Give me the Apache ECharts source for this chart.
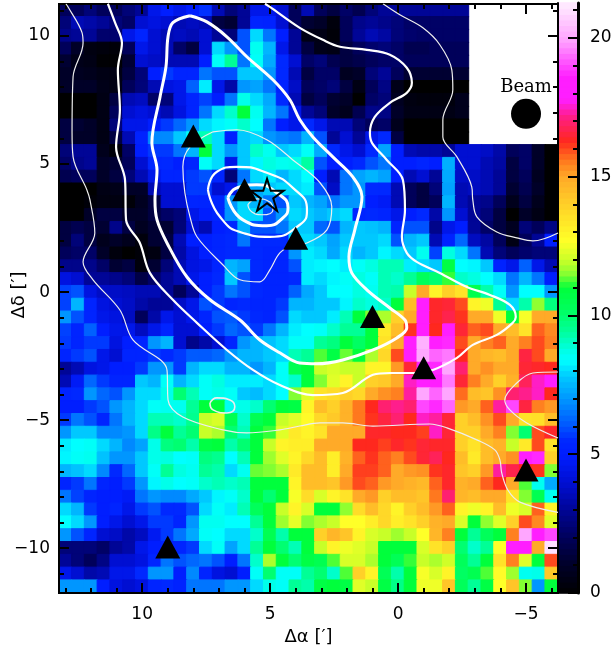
<!DOCTYPE html>
<html><head><meta charset="utf-8">
<style>html,body{margin:0;padding:0;background:#fff}#c{width:615px;height:648px}</style>
<script src="https://cdn.jsdelivr.net/npm/echarts@6/dist/echarts.min.js"></script>
</head><body><div id="c"></div>
<script>
// column centres (RA offset, arcmin) and row centres (Dec offset, arcmin)
const raCats = [13,12.5,12,11.5,11,10.5,10,9.5,9,8.5,8,7.5,7,6.5,6,5.5,5,4.5,4,3.5,3,2.5,2,1.5,1,0.5,0,-0.5,-1,-1.5,-2,-2.5,-3,-3.5,-4,-4.5,-5,-5.5,-6];
const decCats = [11,10.5,10,9.5,9,8.5,8,7.5,7,6.5,6,5.5,5,4.5,4,3.5,3,2.5,2,1.5,1,0.5,0,-0.5,-1,-1.5,-2,-2.5,-3,-3.5,-4,-4.5,-5,-5.5,-6,-6.5,-7,-7.5,-8,-8.5,-9,-9.5,-10,-10.5,-11,-11.5];

// map values, one row per declination, top to bottom (top rows stop where the beam box begins)
const rows = [
[2,2,2.5,2,2,2.5,3,4.5,5,4.5, 5,5.6,3.5,2.5,3,4.5,4.5,4,2,3.5, 2,1.5,2.2,1.8,2.5,3,3,3,3,3, 3,3],
[2.5,3.5,3.3,3,2.5,2.2,4,4.3,4,3.5, 3.7,3.5,1.5,1.2,3,5.3,5.2,4,2,1.2, 1,.3,2,2.8,3,2.8,2.5,2.2,2.2,2.2, 2.2,2.2],
[2.8,3,3,2.3,2.3,4.5,5.3,4,3.5,3.7, 3.5,4,3,2.5,6,8,6.5,5,3,.5, .5,.2,2,3,3.5,3.2,2.5,2.3,2.2,2.2, 2.2,2.2],
[2,1,.4,.3,.2,2,4.5,4,3.5,2.2, 1.5,4,8,7,6,8.6,7.5,4.5,3,1.5, .6,.5,1.5,2,2.3,2.5,2.2,1.8,1.8,2, 2,2],
[1.2,.6,.5,.1,.1,1.2,4,3.8,3.5,3.5, 3.5,5,8.5,9.5,6.5,8.5,7.3,5.5,4,2.2, 2.5,1.8,1.5,1.7,2,2.2,2.2,2,2,2, 2,2],
[1,.8,.7,.5,.5,1.5,2.5,5,5.7,5.3, 5.3,6.5,6,6,7.8,7.8,7,5.5,3.5,1.5, 2.2,2.2,.8,1,2.5,3,2,1.2,1.2,1.2, 1.2,1.2],
[1,1,1,.6,.5,2,2.5,3.5,4.3,4.5, 6.2,8.2,4.5,3.3,7,7.2,6.5,5.2,3.8,2, 2.2,2.5,1.5,.5,2,2.7,.6,0,0,0, 0,0],
[0,0,0,.5,1.5,3.5,3.7,2.2,2.5,4.5, 5.3,5.8,5,6.5,8.7,8,7.3,5.5,3.5,1.5, 2,1.2,1,0,2.2,2.5,.8,.4,.3,.3, .3,.7],
[0,0,0,.5,2,4,4.3,4,3.5,4.3, 5.3,6.5,8,9,11,8.6,7.5,6.5,4.5,3, 2.5,1,.7,1.8,2.8,2.7,1,.5,.5,.5, .5,.7],
[1.5,1.2,1,.5,2.5,4.5,4.5,5,5.7,6.3, 7,8,8.3,8.5,9,8.4,6.5,5,4.5,5.5, 4.5,3.5,3.5,2.5,2,2.2,.7,0,0,0, 0,0],
[1.5,1,1,.5,1.5,3.5,5.2,6.8,6.8,7.8, 8.5,9.2,8,5,7.8,8,7,6.7,6.5,7.5, 6,3,4,3,4.5,5.5,1.5,0,0,0, 0,0],
[2.5,3,3,.7,.2,2.2,5,5.7,5.7,6.5, 7.5,11,8,7,7.8,9,8.6,7.8,8,8.5, 7.3,5.5,4.5,4,5.5,7.2,5,3.5,3.3,3.3, 3,4,4,3.8,3.3,2,2.2,1,0],
[2.2,2.8,3,1,1.2,2,4,5.4,5.5,5, 5.3,8.5,8,4.5,7.8,8.3,8.8,8.6,8.7,9.4, 6,5,5,5.5,6,6.5,5,5,5.3,5, 7.4,4,4,3.5,3.2,1.5,2.2,1,0],
[1.8,2,2,1,1.5,2.5,3.5,4.5,5.3,5.3, 5.7,6,5.3,2.5,6.5,8,8.2,7.5,8,8.4, 5,3.5,6.5,7.2,7.5,7.2,5,3.5,4,3, 7.3,3.8,3.8,3.5,3,1.5,2,.8,0],
[0,0,0,.5,.6,1,1,3.5,4,4, 5.7,5.7,4,4.5,7,7.3,7.8,8,8,8.2, 6,3.8,6.5,7,5.5,5.5,3.5,2,1.5,2.5, 7.2,3.5,3.7,3.5,3,1.2,1.8,1,0],
[0,0,.2,.4,.4,.2,.8,1.5,4,4, 5.3,5.3,5.3,7,8,7.5,6.5,6,7.8,7.5, 7.2,6.5,7,7,5,4.8,3.5,2,1.5,2, 7.5,3.5,3,2.8,2,.7,1.5,.7,0],
[0,0,1,1.5,1.5,1,1,1.5,2.2,2.5, 4.5,5,5.3,7,8,8,6,7,8,7.8, 7.5,7.8,8,5.3,5.5,5.3,4.5,5,5.5,3.3, 7,4,3,2.5,1.5,0,1,.5,0],
[1.5,1.8,1.5,1.2,2.8,1.5,.8,1.2,1.2,2.5, 4,3.5,5,5.3,7.5,6,6,6.5,7.8,7.8, 6.3,6,7.5,7.8,7.7,7.5,5.3,6,6,2.8, 4.5,5,3,2.2,1.5,.8,2.5,2,2.7],
[1.5,2.5,1.5,.7,1,.7,.3,1.2,1.5,3.5, 5,5,5.3,5.5,6.5,5.5,5.5,5.5,8,8, 7.8,7.2,7.8,7.8,7.8,8,6,7.5,7.8,3.5, 5.2,6.3,3.7,3.2,2,.5,2,3,5],
[2,2.2,2.2,1,.3,0,.2,.4,1.5,3.3, 4.3,5,5.3,5.5,5.5,5.5,5.3,5.3,7,8.2, 8,7.3,8,7.5,7.8,8.3,8,7.8,8.6,5.8, 8.8,8,6.5,3.5,2.5,2,2.3,2.5,2.5],
[2.8,2.8,2.8,2.2,1.2,1.5,.3,1.2,2.5,3.5, 4.3,4.5,5.3,7.5,7.2,5.5,5.3,5.3,6,8.2, 8.3,8.4,8.2,8.5,8.8,9.2,9.2,8.2,8,7.8, 10.8,8.4,8.3,7.8,5.2,4.5,6.2,4.5,3.5],
[4.3,4,3,3,2.8,2.5,1.6,2.2,3,3.5, 4.5,5,5.5,7.8,6,5.5,5.3,5.3,5.5,8.2, 8,8.3,8.5,8.8,8.5,9.2,9,9.5,10.3,10, 11.2,9,8.8,8.4,8,6.5,7.5,6.5,5],
[5.8,6,4.3,3.8,3.8,3.7,3.5,3.5,3,2, 3,5,5.7,6.5,6,5.5,5.3,5.3,6.2,7.3, 7.8,8.4,8.4,8.8,8.6,9.2,9.3,12,15,13, 14,13.5,10.6,9.3,8.5,7,8.4,8.4,7],
[5.8,7.5,5.3,4.3,4,3.8,3.3,3,3,3.8, 4.5,6,5.7,5.3,5.5,5.3,5.3,5.7,7.5,7.5, 7.8,7.8,8.3,9,8.8,9,11,14.5,18.5,16.4, 16.5,16,13,12.5,9.5,8,9.3,11.6,9.8],
[7,6,5.3,4.5,4.3,3.7,2,3.3,4.5,4, 4.5,5.3,6,6.1,5.7,5.5,5.3,6,8,7.8, 7.8,8.2,9.2,11,11.5,11.8,14,15,18,16.4, 16.7,16.2,15,15,12.5,11,12.6,15,15],
[5.8,5.3,6.2,5,4.5,4.5,3.7,4.5,5.3,4, 4,5,5.7,6.3,6,5.7,6.5,7.5,8.2,8.4, 8.5,9,9.5,9.5,11,13.3,14.5,16.2,18.5,16.3, 18.3,16.5,15.8,16,15,14.5,13.5,15.8,15.4],
[5.7,5.3,5.7,5.7,4.3,5,5.3,7,7.5,4, 2.8,3.3,4,5.3,7,7.5,7.7,8,8.5,8.5, 9.5,9.8,11,10.2,11,13.5,15,18,20.2,18.5, 18.7,16,15,15.5,15.8,15,15.5,16,15.5],
[5.3,5.7,6,4.5,4,5.3,5.3,5.7,5.5,5.7, 6.1,6.1,6.3,7,7.5,7.5,7.8,8,9.2,9.5, 11.3,10.8,11.4,11,11.8,13.8,16,18.3,20,19.3, 19.5,16.3,15,14.7,14.5,15,16.6,16,15],
[3,3.5,4.3,4.5,5,5,5.7,7,7,5.7, 7.5,8,8,7.5,7.5,7,7.5,8.5,10.5,11, 12,12.2,12,12,13,13,15.2,16.5,18,18.7, 20,17,15,15.3,15,15,16.5,16.4,16.3],
[3.5,4.8,6.3,5.7,5.3,5.3,7.8,7.5,8.5,7.5, 8,8.5,8.8,8.2,8.2,8.2,8,8.5,9,11, 11.5,12.3,13,12,14,14.2,15,17.5,18.5,18, 19.5,16.5,15.5,15,14,14.8,16.8,17.5,18.3],
[5.3,5.5,7,6.3,6,7,8,8,8.7,10, 9.2,8.5,8.7,8.5,7.8,7.6,8,8.4,11.5,12.3, 13.5,13.7,14,13.8,15,15.3,15.5,17.3,20,19.3, 20,15.7,14.5,14.3,15.3,17,17.2,17.5,16.3],
[5,5,5.7,6,7,7.5,8,8.5,8.6,8.6, 9.5,11,11,8.6,8.7,9,10,11,10.8,13, 14.5,14,14.8,15.6,16.3,17,17.2,17,19,18.7, 19.3,15.2,15,15.8,17.3,19,16.6,15.5,15.2],
[5.7,6.5,6,5.3,6.5,7.5,8,9.2,9.2,9, 9.6,12,12.2,10.5,9,10.5,11,12,12.3,12.8, 13.8,14.2,14.8,15.6,16.2,16.6,17,16.3,17.5,17.3, 16.5,14,14.5,15.3,16,15,13.5,13.6,14.5],
[7,7.8,7.8,6.8,6.8,7,8,9.7,11,9.5, 10,12,11.8,10,9.2,11,11.2,12.3,13.3,13, 13.5,15,15,15,16.4,16.4,16.3,16.3,16.1,17.5, 16.5,14,14,15,15.5,11.5,10,16,16.4],
[8.2,8.4,8.5,8,7.5,6.8,7.2,8.7,9.8,10, 9.3,10.8,11,9.3,10,11,12,13,13.2,13.2, 15,15,15,16.3,16.3,16.1,16.4,16.2,16.5,16.4, 16.4,14,13.5,14.5,14.8,12,13.3,16,13.5],
[8.3,8.5,8.6,7.7,7,7,7.8,8.7,8.8,8.4, 8.5,9.8,9.6,8.4,9.2,11,11.7,12.3,13,13.8, 14.5,13.2,14.8,15.8,16.2,15.8,15.5,16,16.5,16.8, 16.3,14.5,13.3,14.5,15,15.3,18.5,18.7,14],
[7.5,7.7,8,6.8,5.5,6.3,7.8,8.5,9.5,8.8, 8.6,9.5,9.3,8,8.6,11.4,11.5,11.8,13.3,14.5, 14.5,13.2,15,16.1,16.1,15.8,15,15.2,15.3,16.2, 16.4,14.3,14,15.2,17.3,16.7,16.3,16.2,11.5],
[5.3,5.7,6.5,5.3,5,5.7,7,8.3,8.7,8.4, 8.5,9,9.2,9,9.2,11,11,11,13,14.5, 14.5,14.3,15.2,16,15.8,15.2,15,14.8,14.6,15.8, 16.4,14.8,15,15.8,16.3,15,11.3,8.6,7.3],
[6.5,5.8,5.3,5,5,4.8,6.5,7,6.8,6.8, 7.3,7.8,8.3,8.5,9,11,10,11,12.6,13.7, 12.2,13,13.5,15,15.2,14,14.5,14.5,14.3,15.6, 17,14.7,14.5,15,15,13.5,11.5,10.5,8.6],
[8,7.5,5.7,5,5.3,4.5,5.7,6,5.5,5.5, 6,8,8.5,8.2,9.2,10.3,11,12,13,12.2, 11,11,11.6,13.7,14.5,13.8,13,14,14.5,15.2, 15.8,13,12.5,13,14.5,12.5,12.2,15.8,13],
[8.4,8,7,5,4.5,4,4.5,5.7,5.7,5.3, 7,8.6,8.6,8.4,8.4,9.5,11,11.7,12.4,11.5, 11.8,12,12.7,12.7,13.2,13.8,13.2,13.5,14,14.8, 15,12.2,11,11.6,12.3,14,16,15.4,12.3],
[7,6,5.3,4,3.8,3.3,3.7,4.7,5.7,6.5, 7.3,8.5,8.4,8,8,9,10.5,9.3,11,11, 14,14.7,14.3,13,12.2,12,11.7,12,12.7,14.7, 15.5,11,9.5,10.3,11,15.5,20,18,19],
[2.5,2.5,2.5,2.2,3,3.3,4.5,5,5.3,5.3, 5.7,8,8.5,7.2,8,9.5,11,10,9.2,11, 12,13,12.5,12.3,12,11,11,11,12.2,13.5, 14,10,9,9.5,12.7,18.5,18,15,21],
[3,2.5,2,2.7,4,4,4.3,5.3,6.5,6, 6.3,6.5,6,5,6.5,9,11.8,11,10,10.8, 10.5,11.3,12.2,12.2,11.8,11,10.4,11.2,12,11.8, 12.1,10.3,9.5,11,13.5,15.5,12.3,11,16],
[4.5,4,3.3,3.5,4.5,4.5,5.5,7,7,5, 6.8,5.3,4.3,4,5,8.5,10,8.5,8.5,9.5, 10,9,11.3,14,13,10.4,9.3,11,12.6,12.2, 13,10.2,10.5,11.3,12.8,11.7,8.6,8.7,14.2],
[7,7,7,5,4.3,4,4.3,5.3,5.5,5.2, 6.5,6.5,6.5,7,7,8,8.7,8.5,9.5,9.3, 10.8,11,10.8,12.3,12,10.8,9.7,11,12.5,12.5, 14.3,10.3,9.5,10.8,12.7,14.3,11.5,7,11]
];

// colour-bar stops: [value, r, g, b]
const colorStops = [[0,0,0,0],[1,0,0,40],[2,0,0,90],[3,0,5,150],[4,0,15,210],[5,0,30,255],[5.5,0,40,255],[6.1,0,90,255],[7,0,150,255],[7.8,0,200,255],[8.4,0,255,255],[8.75,0,255,230],[9.5,0,255,150],[10.3,0,255,90],[11,0,255,60],[11.5,130,255,50],[12,200,255,40],[12.7,255,255,40],[13.7,255,220,40],[15,255,170,40],[15.6,255,120,30],[16.3,255,40,30],[17.15,255,30,130],[17.8,255,30,255],[18.6,255,30,255],[19.9,255,160,255],[21.3,255,240,255]];
const cbarMax = 21.26;
const cbarBandCount = 106;

// axis tick positions and labels (arcmin)
const raMajor = [10,5,0,-5];
const raMinor = [13,12,11,9,8,7,6,4,3,2,1,-1,-2,-3,-4,-6];
const decMajor = [10,5,0,-5,-10];
const decMinor = [11,9,8,7,6,4,3,2,1,-1,-2,-3,-4,-6,-7,-8,-9,-11];
const cbarMajor = [0,5,10,15,20];
const cbarMinor = [1,2,3,4,6,7,8,9,11,12,13,14,16,17,18,19,21];

// contours, [RA offset, Dec offset] in arcmin
const contourA = [[12.98,11.26],[12.9,11.14],[12.35,10.13],[12.31,9.73],[12.7,8.41],[12.74,6.22],[12.7,5.28],[12.16,3.99],[12.04,3.6],[11.85,2.31],[12.31,1.18],[11.92,.48],[10.87,-.7],[10.36,-1.87],[9.03,-3.04],[8.99,-4.21],[8.41,-4.88],[6.84,-5.38],[5.91,-5.5],[4.62,-5.38],[3.84,-5.23],[3.05,-5.11],[2.16,-5.11],[.98,-5.23],[-1.24,-5.15],[-1.91,-5.3],[-3.08,-5.77],[-3.78,-6.16],[-3.98,-6.55],[-4.05,-7.06],[-4.29,-7.73],[-4.76,-8.2],[-6.25,-8.6]];
const contourB = [[11.34,11.26],[11.06,10.52],[10.79,9.73],[10.95,8.68],[10.87,7.12],[11.02,5.67],[10.67,4.38],[10.63,2.82],[10.09,1.92],[9.7,.75],[8.8,-.3],[7.86,-1.2],[6.69,-2.26],[5.67,-3.04],[4.62,-3.63],[3.33,-4.02],[2.16,-3.94],[.98,-3.23],[.32,-3.16],[-.58,-3.16],[-1.36,-3.04],[-2.3,-2.57],[-2.92,-2.06],[-3.86,-1.67],[-4.48,-1.2],[-4.6,-.97],[-4.37,-.5],[-3.59,-.11],[-2.69,.2],[-1.63,.75],[-.73,1.18],[-.34,1.53],[-.15,2.16],[-.27,3.21],[-.19,4.38],[.44,5.16],[1.02,5.83],[1.1,6.22],[.91,6.84],[.32,7.39],[-.34,7.78],[-.54,8.17],[-.34,8.76],[.32,9.27],[1.22,9.46],[2.27,9.58],[2.94,9.85],[3.84,10.32],[5.01,11.14],[5.2,11.26]];
const contourC = [[8.13,10.79],[7.47,10.55],[6.69,9.97],[5.91,9.19],[4.89,8.29],[4.23,7.51],[3.84,6.73],[3.33,6.06],[2.55,5.28],[1.77,4.5],[1.41,3.72],[1.69,2.43],[1.92,1.38],[1.81,.75],[1.22,.09],[.32,-.62],[-.27,-1.09],[-.34,-1.4],[.05,-1.79],[.98,-2.26],[2.16,-2.65],[3.17,-2.8],[3.84,-2.77],[4.62,-2.37],[5.4,-1.87],[6.18,-1.09],[7.35,-.3],[8.25,.59],[9.03,1.92],[9.42,2.82],[9.5,3.6],[9.42,4.77],[9.62,5.83],[9.3,7.63],[9.07,8.8],[8.99,9.97],[8.8,10.52],[8.13,10.79]];
const contourD = [[7.23,6.26],[8.13,5.67],[8.41,4.89],[8.33,3.87],[8.13,2.94],[7.86,2.16],[6.84,1.06],[6.18,.48],[5.4,.4],[5.01,.87],[4.62,1.53],[4.11,1.84],[3.56,1.92],[2.78,2.43],[2.59,3.33],[3.05,4.27],[4.11,5.16],[5.13,5.95],[6.3,6.34],[7.23,6.26]];
const contourE = [[7.43,3.99],[7.08,4.7],[6.3,4.89],[5.13,4.66],[4.11,4.07],[3.56,3.21],[3.84,2.63],[5.01,2.16],[6.06,2.31],[6.96,2.94],[7.43,3.99]];
const contourF = [[6.65,3.68],[6.3,4.07],[5.52,4.19],[4.73,3.87],[4.3,3.29],[4.5,2.9],[5.13,2.59],[6.06,2.82],[6.65,3.68]];
const contourG = [[5.87,3.41],[5.52,3.64],[5.01,3.52],[4.89,3.21],[5.32,3.02],[5.71,3.13],[5.87,3.41]];
const contourH = [[7.35,-4.33],[7.08,-4.13],[6.57,-4.21],[6.38,-4.48],[6.69,-4.72],[7.23,-4.6],[7.35,-4.33]];
const contourI = [[.59,11.26],[-.07,10.83],[-.97,10.32],[-1.63,9.66],[-2.1,8.68],[-2.14,7.9],[-1.75,6.73],[-1.75,6.06],[-2.3,5.28],[-2.88,4.11],[-2.92,3.6],[-3.08,2.94],[-3.86,2.35],[-4.64,2.12],[-5.27,2],[-6.25,2.31]];
const contourJ = [[-6.25,-3.12],[-5.27,-3.16],[-4.64,-3.55],[-4.17,-4.21],[-4.37,-4.6],[-5.03,-5.11],[-6.25,-5.7]];

// markers
const triangles = [[8,6.1],[6,4],[4,2.1],[1,-.95],[-1,-2.95],[-5,-6.95],[9,-9.95]];
const starPos = [[5.12,3.8]];
const beamPos = [[-5,6.96]];
const beamLabelPos = [[-5,8.0]];
const beamLabel = 'Beam';
const xTitle = 'Δα [′]';
const yTitle = 'Δδ [′]';

const FONT = '"DejaVu Sans"';
const XMIN=-6.25, XMAX=13.25, YMIN=-11.75, YMAX=11.25;

function colorAt(v){
  for(let i=1;i<colorStops.length;i++){
    const a=colorStops[i-1],b=colorStops[i];
    if(v<=b[0]){const t=(v-a[0])/(b[0]-a[0]);
      return 'rgb('+[1,2,3].map(k=>Math.round(a[k]+(b[k]-a[k])*t)).join(',')+')';}
  }
  return 'rgb(255,240,255)';
}
const palette=[];for(let i=0;i<=213;i++)palette.push(colorAt(i/10));

// each cell also strokes its own colour so no seams show between neighbouring cells
const cell=(x,y,v)=>({value:[x,y,v],itemStyle:{borderColor:colorAt(v),borderWidth:1}});
const heat=[];
rows.forEach((row,r)=>row.forEach((v,c)=>heat.push(cell(c,r,v))));

const cbarCats=[],cbarData=[];
for(let i=0;i<cbarBandCount;i++){cbarCats.push(i);cbarData.push(cell(0,i,(i+.5)*cbarMax/cbarBandCount));}

const fmt=v=>String(v).replace('-','−');
function valX(pos,vals,len,labels,extra){
  return Object.assign({type:'value',gridIndex:0,position:pos,inverse:true,min:XMIN,max:XMAX,z:5,
    splitLine:{show:false},axisLine:{show:true,onZero:false,lineStyle:{color:'#000',width:2}},
    axisTick:{show:true,inside:true,length:len,customValues:vals,lineStyle:{color:'#000',width:2}},
    axisLabel:labels?{show:true,customValues:vals,formatter:fmt,color:'#000',fontFamily:FONT,fontSize:17,margin:13}:{show:false}},extra||{});
}
function valY(pos,vals,len,labels,extra){
  return Object.assign({type:'value',gridIndex:0,position:pos,min:YMIN,max:YMAX,z:5,
    splitLine:{show:false},axisLine:{show:true,onZero:false,lineStyle:{color:'#000',width:2}},
    axisTick:{show:true,inside:true,length:len,customValues:vals,lineStyle:{color:'#000',width:2}},
    axisLabel:labels?{show:true,customValues:vals,formatter:fmt,color:'#000',fontFamily:FONT,fontSize:17,margin:9}:{show:false}},extra||{});
}
function cont(data,w,col,sm){
  return {type:'line',xAxisIndex:1,yAxisIndex:1,data:data,symbol:'none',smooth:sm||0.35,silent:true,z:6,clip:true,
    lineStyle:{color:col||'#fff',width:w}};
}
const THIN='#eeeeee';
const option={
  animation:false,
  backgroundColor:'#fff',
  grid:[{left:59,top:4,width:499,height:589,outerBoundsMode:'none'},{left:558,top:3,width:20,height:590,outerBoundsMode:'none'}],
  visualMap:{show:false,type:'continuous',min:0,max:21.3,seriesIndex:[0,1],inRange:{color:palette}},
  graphic:[{type:'text',x:19,y:295,rotation:Math.PI/2,z:10,
    style:{text:yTitle,fill:'#000',font:'18px "DejaVu Sans"',textAlign:'center',textVerticalAlign:'middle'}}],
  xAxis:[
    {type:'category',gridIndex:0,data:raCats,show:false},
    valX('bottom',raMajor,10,true,{name:xTitle,nameLocation:'middle',nameGap:33,nameTextStyle:{color:'#000',fontFamily:FONT,fontSize:18}}),
    valX('bottom',raMinor,5,false),
    valX('top',raMajor,10,false),
    valX('top',raMinor,5,false),
    {type:'category',gridIndex:1,data:['c'],show:false}
  ],
  yAxis:[
    {type:'category',gridIndex:0,data:decCats,inverse:true,show:false},
    valY('left',decMajor,10,true),
    valY('left',decMinor,5,false),
    valY('right',decMajor,10,false),
    valY('right',decMinor,5,false),
    {type:'category',gridIndex:1,data:cbarCats,show:false},
    {type:'value',gridIndex:1,position:'right',min:0,max:cbarMax,z:5,splitLine:{show:false},
      axisLine:{show:true,onZero:false,lineStyle:{color:'#000',width:3}},
      axisTick:{show:true,inside:true,length:10,customValues:cbarMajor,lineStyle:{color:'#000',width:2}},
      axisLabel:{show:true,customValues:cbarMajor,color:'#000',fontFamily:FONT,fontSize:17,margin:12,align:'left'}},
    {type:'value',gridIndex:1,position:'right',min:0,max:cbarMax,z:5,splitLine:{show:false},
      axisLine:{show:false},
      axisTick:{show:true,inside:true,length:5,customValues:cbarMinor,lineStyle:{color:'#000',width:2}},
      axisLabel:{show:false}},
    {type:'value',gridIndex:1,position:'left',min:0,max:cbarMax,z:5,splitLine:{show:false},
      axisLine:{show:true,onZero:false,lineStyle:{color:'#000',width:2}},axisTick:{show:false},axisLabel:{show:false}}
  ],
  series:[
    {type:'heatmap',xAxisIndex:0,yAxisIndex:0,data:heat,progressive:0,silent:true,z:2},
    {type:'heatmap',xAxisIndex:5,yAxisIndex:5,data:cbarData,progressive:0,silent:true,z:2},
    cont(contourA,1.2,THIN),cont(contourB,2.2),cont(contourC,3),cont(contourD,1.2,THIN),
    cont(contourE,2.2,null,0.55),cont(contourF,3,null,0.55),cont(contourG,1.2,THIN,0.55),cont(contourH,1.6,THIN,0.55),
    cont(contourI,1.2,THIN),cont(contourJ,1.2,THIN),
    {type:'scatter',xAxisIndex:1,yAxisIndex:1,data:starPos,silent:true,z:7,symbolSize:33,symbolKeepAspect:true,
      symbol:'path://M50 2 L61 37 L98 37 L68 59 L79 95 L50 73 L21 95 L32 59 L2 37 L39 37 Z',
      itemStyle:{color:'rgba(0,0,0,0)',borderColor:'#000',borderWidth:2,opacity:1}},
    {type:'scatter',xAxisIndex:1,yAxisIndex:1,data:triangles,silent:true,z:8,symbol:'triangle',symbolSize:[25,23],itemStyle:{color:'#000',opacity:1}},
    {type:'scatter',xAxisIndex:1,yAxisIndex:1,data:beamPos,silent:true,z:8,symbol:'circle',symbolSize:30,itemStyle:{color:'#000',opacity:1}},
    {type:'scatter',xAxisIndex:1,yAxisIndex:1,data:beamLabelPos,silent:true,z:8,symbolSize:1,itemStyle:{color:'rgba(0,0,0,0)',opacity:1},
      label:{show:true,position:'inside',formatter:beamLabel,color:'#000',opacity:1,fontFamily:'"DejaVu Serif"',fontSize:18}}
  ]
};
echarts.init(document.getElementById('c'),null,{renderer:'canvas'}).setOption(option);
</script></body></html>
